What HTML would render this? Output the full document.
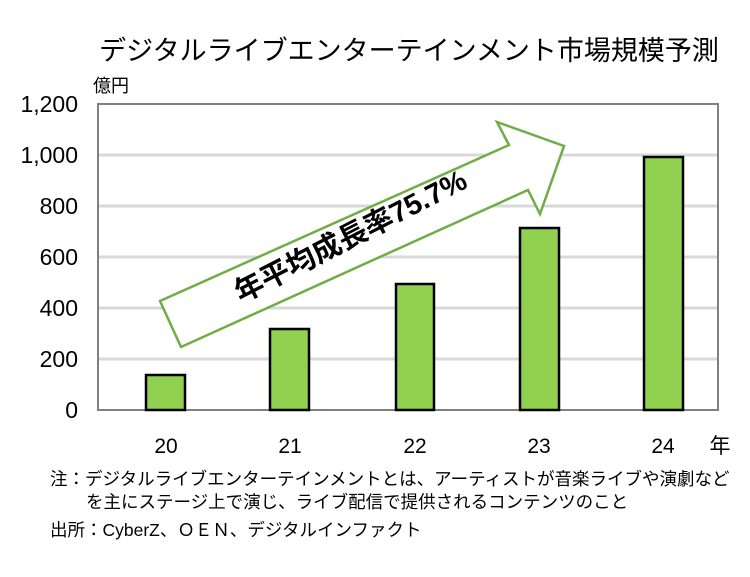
<!DOCTYPE html>
<html><head><meta charset="utf-8"><style>
body{margin:0;background:#fff;}
svg text{font-family:"Liberation Sans","Noto Sans CJK JP",sans-serif;}
</style></head><body>
<svg width="750" height="572" viewBox="0 0 750 572" xmlns="http://www.w3.org/2000/svg">
<rect width="750" height="572" fill="#fff"/>
<text x="409" y="60" font-size="27" text-anchor="middle" fill="#000">デジタルライブエンターテインメント市場規模予測</text>
<text x="93" y="92" font-size="18" fill="#000">億円</text>
<g stroke="#d9d9d9" stroke-width="3">
<line x1="98" y1="155" x2="718" y2="155"/><line x1="98" y1="206" x2="718" y2="206"/>
<line x1="98" y1="257" x2="718" y2="257"/><line x1="98" y1="308" x2="718" y2="308"/>
<line x1="98" y1="359" x2="718" y2="359"/>
</g>
<rect x="98" y="104" width="620" height="306" fill="none" stroke="#808080" stroke-width="2"/>
<g font-size="23" text-anchor="end" fill="#000">
<text x="78" y="418">0</text><text x="78" y="367">200</text><text x="78" y="316">400</text>
<text x="78" y="265">600</text><text x="78" y="214">800</text><text x="78" y="163">1,000</text><text x="78" y="112">1,200</text>
</g>
<g fill="#92d050" stroke="#000" stroke-width="2.5">
<rect x="146" y="375" width="39" height="35"/>
<rect x="270" y="329" width="39" height="81"/>
<rect x="396" y="284" width="38" height="126"/>
<rect x="520" y="228" width="39" height="182"/>
<rect x="644" y="157" width="39" height="253"/>
</g>
<polygon points="160,301 181,347 528,190 540,214 564,146 497,122 509,145" fill="#fff" stroke="#70ad47" stroke-width="2.5"/>
<text x="0" y="0" font-size="29" font-weight="bold" text-anchor="middle" fill="#000" transform="translate(355,245) rotate(-27)">年平均成長率75.7%</text>
<g font-size="21" text-anchor="middle" fill="#000">
<text x="166" y="453">20</text><text x="290" y="453">21</text><text x="415" y="453">22</text>
<text x="539" y="453">23</text><text x="663" y="453">24</text><text x="720" y="453">年</text>
</g>
<g font-size="17.5" fill="#000">
<text x="50" y="485">注：デジタルライブエンターテインメントとは、アーティストが音楽ライブや演劇など</text>
<text x="86" y="508">を主にステージ上で演じ、ライブ配信で提供されるコンテンツのこと</text>
<text x="50" y="536">出所：CyberZ、ＯＥＮ、デジタルインファクト</text>
</g>
</svg>
</body></html>
